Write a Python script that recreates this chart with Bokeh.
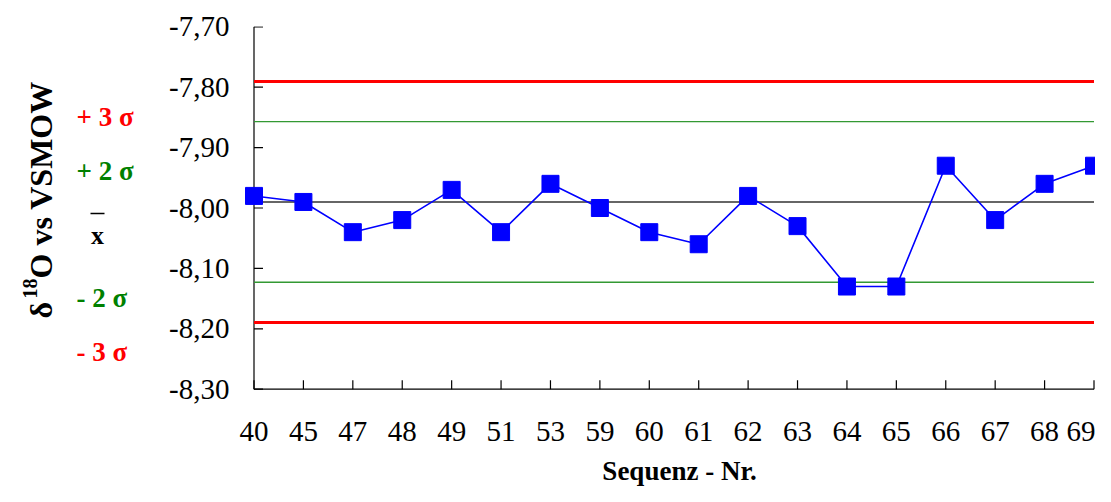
import math
from bokeh.plotting import figure
from bokeh.models import Range1d, FixedTicker, ColumnDataSource
from bokeh.core.properties import value
from bokeh.layouts import row, column
from bokeh.embed import file_html
from bokeh.resources import INLINE

# ---------------- data ----------------
categories = ["40", "45", "47", "48", "49", "51", "53", "59", "60",
              "61", "62", "63", "64", "65", "66", "67", "68", "69"]
values = [-7.98, -7.99, -8.04, -8.02, -7.97, -8.04, -7.96, -8.00, -8.04,
          -8.06, -7.98, -8.03, -8.13, -8.13, -7.93, -8.02, -7.96, -7.93]
y_ticks = [-8.30, -8.20, -8.10, -8.00, -7.90, -7.80, -7.70]
y_tick_labels = ["-8,30", "-8,20", "-8,10", "-8,00", "-7,90", "-7,80", "-7,70"]
MEAN = -7.99
SIGMA = 0.0665
Y_MIN, Y_MAX = -8.30, -7.70

sigma_texts = ["+ 3 σ", "+ 2 σ", "- 2 σ", "- 3 σ"]
sigma_colors = ["#ff0000", "#008000", "#008000", "#ff0000"]

FONT = "Liberation Serif"

# ---------------- geometry (canvas pixels) ----------------
W, H = 1095, 486
WL = 150            # width of the left label strip
HM = 454            # height of the main row
N = len(categories)
X0_PX, XN_PX = 253.5, 1093.5
X_STEP = (XN_PX - X0_PX) / (N - 1)
Y_TOP_PX, Y_BOT_PX = 26.3, 388.7
Y_PER_PX = (Y_MAX - Y_MIN) / (Y_BOT_PX - Y_TOP_PX)
FL, FR, FT, FB = 241, W, 26, 390


def dx(px):
    return (px - X0_PX) / X_STEP


def dy(py):
    return Y_MAX - (py - Y_TOP_PX) * Y_PER_PX


xs = list(range(N))

# ---------------- main chart ----------------
pm = figure(width=W - WL, height=HM,
            x_range=Range1d(dx(FL), dx(FR)),
            y_range=Range1d(dy(FB), dy(FT)),
            output_backend="svg", toolbar_location=None,
            min_border_left=FL - WL, min_border_right=0,
            min_border_top=FT, min_border_bottom=HM - FB)
pm.outline_line_color = None
pm.xgrid.visible = False
pm.ygrid.visible = False
pm.background_fill_color = "white"
pm.border_fill_color = "white"

pm.yaxis.ticker = FixedTicker(ticks=y_ticks)
pm.yaxis.major_label_overrides = {t: l for t, l in zip(y_ticks, y_tick_labels)}
pm.yaxis.axis_line_color = None
pm.yaxis.major_tick_line_color = None
pm.yaxis.minor_tick_line_color = None
pm.yaxis.major_tick_out = 0
pm.yaxis.major_tick_in = 0
pm.yaxis.major_label_standoff = 12
pm.yaxis.major_label_text_font = FONT
pm.yaxis.major_label_text_font_size = "29px"
pm.yaxis.major_label_text_color = "black"

pm.xaxis.ticker = FixedTicker(ticks=xs)
pm.xaxis.major_label_overrides = {i: c for i, c in zip(xs, categories)}
pm.xaxis.axis_line_color = None
pm.xaxis.major_tick_line_color = None
pm.xaxis.minor_tick_line_color = None
pm.xaxis.major_tick_out = 0
pm.xaxis.major_tick_in = 0
pm.xaxis.major_label_standoff = 31
pm.xaxis.major_label_text_font = FONT
pm.xaxis.major_label_text_font_size = "29px"
pm.xaxis.major_label_text_color = "black"

tick_len_x = 9 / X_STEP
tick_len_y = 9 * Y_PER_PX
pm.segment(x0=[0], y0=[Y_MIN], x1=[0], y1=[Y_MAX], line_color="black", line_width=1.2)
pm.segment(x0=[0], y0=[Y_MIN], x1=[N - 1], y1=[Y_MIN], line_color="black", line_width=1.2)
pm.segment(x0=[0] * len(y_ticks), y0=y_ticks, x1=[tick_len_x] * len(y_ticks), y1=y_ticks,
           line_color="black", line_width=1.2)
pm.segment(x0=xs, y0=[Y_MIN] * N, x1=xs, y1=[Y_MIN + tick_len_y] * N,
           line_color="black", line_width=1.2)


def hline(y, color, width):
    pm.segment(x0=[0], y0=[y], x1=[N - 1], y1=[y], line_color=color, line_width=width)


hline(MEAN + 3 * SIGMA, "#ff0000", 3)
hline(MEAN - 3 * SIGMA, "#ff0000", 3)
hline(MEAN + 2 * SIGMA, "#339933", 1.4)
hline(MEAN - 2 * SIGMA, "#339933", 1.4)
hline(MEAN, "#333333", 1.6)

pm.line(xs, values, line_color="#0000ff", line_width=1.6)
pm.scatter(xs, values, marker="square", size=17, fill_color="#0000ff", line_color="#0000ff")

# ---------------- left strip: y title and sigma labels ----------------
# frame matches the main frame vertically; ranges are in canvas pixels
pl = figure(width=WL, height=HM, x_range=Range1d(0, WL), y_range=Range1d(FB, FT),
            output_backend="svg", toolbar_location=None,
            min_border_left=0, min_border_right=0,
            min_border_top=FT, min_border_bottom=HM - FB)
pl.axis.visible = False
pl.grid.visible = False
pl.outline_line_color = None
pl.background_fill_color = "white"
pl.border_fill_color = "white"

sig_src = ColumnDataSource(dict(x=[76] * 4, y=[116, 170, 297, 351],
                                text=sigma_texts, color=sigma_colors))
pl.text(x="x", y="y", text="text", text_color="color", source=sig_src,
        text_font=value(FONT), text_font_size="27px", text_font_style="bold",
        text_align="left", text_baseline="middle")
pl.text(x=[97], y=[235], text=["x"], text_color="black",
        text_font=value(FONT), text_font_size="26px", text_font_style="bold",
        text_align="center", text_baseline="middle")
pl.segment(x0=[90], y0=[213], x1=[104], y1=[213], line_color="black", line_width=1.6)

rot = math.pi / 2
pl.text(x=[40], y=[318], text=["δ"], angle=rot, text_color="black",
        text_font=value(FONT), text_font_size="32px", text_font_style="bold",
        text_align="left", text_baseline="middle")
pl.text(x=[29], y=[298], text=["18"], angle=rot, text_color="black",
        text_font=value(FONT), text_font_size="20px", text_font_style="bold",
        text_align="left", text_baseline="middle")
pl.text(x=[40], y=[278], text=["O vs VSMOW"], angle=rot, text_color="black",
        text_font=value(FONT), text_font_size="32px", text_font_style="bold",
        text_align="left", text_baseline="middle")

# ---------------- bottom strip: x title ----------------
HB = H - HM
pb = figure(width=W, height=HB, x_range=Range1d(0, W), y_range=Range1d(H, HM),
            output_backend="svg", toolbar_location=None,
            min_border=0, min_border_left=0, min_border_right=0,
            min_border_top=0, min_border_bottom=0)
pb.axis.visible = False
pb.grid.visible = False
pb.outline_line_color = None
pb.background_fill_color = "white"
pb.border_fill_color = "white"
pb.text(x=[679], y=[470], text=["Sequenz - Nr."], text_color="black",
        text_font=value(FONT), text_font_size="27px", text_font_style="bold",
        text_align="center", text_baseline="middle")

layout = column(row(pl, pm, spacing=0), pb, spacing=0)
open("out.html", "w").write(file_html(layout, INLINE))
